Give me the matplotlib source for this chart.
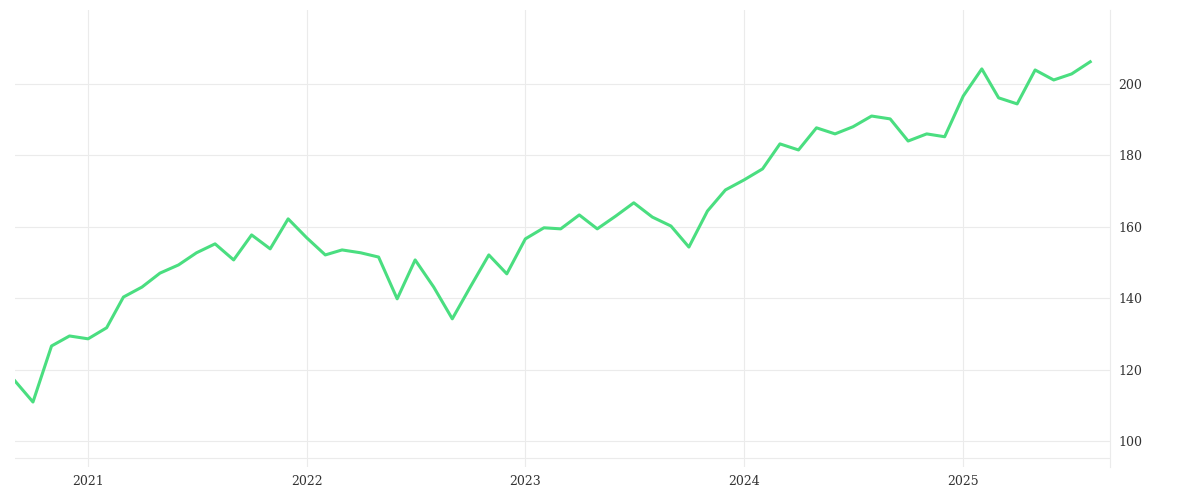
import pandas as pd
import matplotlib.pyplot as plt
import matplotlib.dates as mdates

# Monthly values, Sep 2020 - Aug 2025
dates = pd.date_range("2020-09-01", "2025-08-01", freq="MS")
values = [
    116.8, 110.9, 126.6, 129.4,
    128.6, 131.7, 140.3, 143.1, 147.0, 149.3, 152.7, 155.2, 150.7, 157.7, 153.8, 162.2,
    156.9, 152.1, 153.5, 152.7, 151.5, 139.8, 150.7, 143.1, 134.2, 143.1, 152.1, 146.8,
    156.6, 159.7, 159.4, 163.3, 159.4, 163.0, 166.7, 162.7, 160.2, 154.3, 164.4, 170.3,
    173.1, 176.2, 183.2, 181.5, 187.7, 186.0, 188.0, 191.0, 190.2, 184.0, 186.0, 185.2,
    196.6, 204.2, 196.1, 194.4, 203.9, 201.1, 202.8, 206.2,
]
y_ticks = [100, 120, 140, 160, 180, 200]

plt.rcParams["font.family"] = "DejaVu Serif"
fig = plt.figure(figsize=(12, 5), dpi=100)
ax = fig.add_axes([0.0125, 0.066, 0.9125, 0.914])

ax.plot(dates, values, color="#4ade80", linewidth=2.2)

ax.set_ylim(92.7, 220.7)
ax.set_xlim(pd.Timestamp("2020-09-01"), pd.Timestamp("2025-09-03"))
ax.set_yticks(y_ticks)
ax.yaxis.tick_right()
ax.xaxis.set_major_locator(mdates.YearLocator())
ax.xaxis.set_major_formatter(mdates.DateFormatter("%Y"))
ax.grid(True, color="#ebebeb", linewidth=0.8)
ax.axhline(95.3, color="#ebebeb", linewidth=0.8)
ax.tick_params(length=0, labelsize=9, colors="#333333", pad=6)
for side in ["top", "left", "bottom"]:
    ax.spines[side].set_visible(False)
ax.spines["right"].set_color("#ebebeb")

fig.savefig("out.png")
